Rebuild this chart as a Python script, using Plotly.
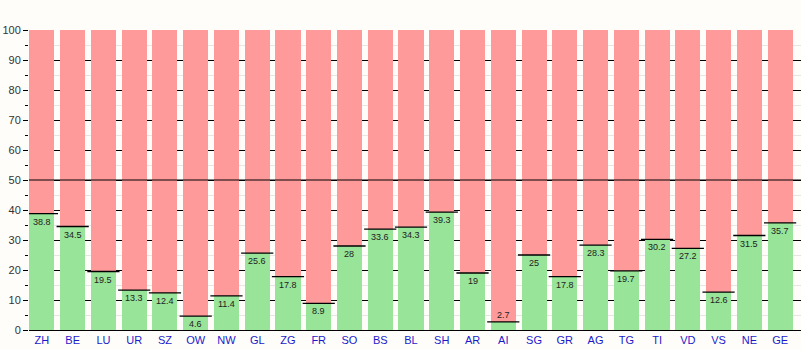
import plotly.graph_objects as go

cantons = ["ZH", "BE", "LU", "UR", "SZ", "OW", "NW", "GL", "ZG", "FR", "SO", "BS", "BL",
           "SH", "AR", "AI", "SG", "GR", "AG", "TG", "TI", "VD", "VS", "NE", "GE"]
yes_pct = [38.8, 34.5, 19.5, 13.3, 12.4, 4.6, 11.4, 25.6, 17.8, 8.9, 28, 33.6, 34.3,
           39.3, 19, 2.7, 25, 17.8, 28.3, 19.7, 30.2, 27.2, 12.6, 31.5, 35.7]
no_pct = [round(100 - v, 1) for v in yes_pct]
y_ticks = [0, 10, 20, 30, 40, 50, 60, 70, 80, 90, 100]

GREEN = "#98e498"
RED = "#ff9a9a"
FONT = "Liberation Sans, Arial, sans-serif"

fig = go.Figure()
fig.add_trace(go.Bar(x=cantons, y=yes_pct, marker=dict(color=GREEN, line=dict(width=0)),
                     hoverinfo="skip", name="Ja"))
fig.add_trace(go.Bar(x=cantons, y=no_pct, marker=dict(color=RED, line=dict(width=0)),
                     hoverinfo="skip", name="Nein"))

# black rule on top of each "yes" segment
fig.add_trace(go.Scatter(x=cantons, y=yes_pct, mode="markers",
                         marker=dict(symbol="line-ew", size=23,
                                     line=dict(color="black", width=1.3)),
                         hoverinfo="skip", showlegend=False))

# value labels: just below the top of the yes segment, above it when too short
for c, v in zip(cantons, yes_pct):
    above = v < 4
    fig.add_annotation(x=c, y=v, text=f"{v:g}", showarrow=False,
                       yanchor="bottom" if above else "top",
                       yshift=0 if above else -1,
                       font=dict(family=FONT, size=9, color="#222"))

# 50 % line drawn over the bars
fig.add_shape(type="line", xref="paper", x0=0, x1=1, yref="y", y0=50, y1=50,
              line=dict(color="black", width=1), layer="above")

fig.update_layout(
    barmode="stack",
    bargap=0.185,
    width=801, height=350,
    margin=dict(l=29, r=0, t=30, b=20),
    paper_bgcolor="#fffdf9",
    plot_bgcolor="#fffdf9",
    showlegend=False,
    font=dict(family=FONT, size=11, color="#333"),
)
fig.update_xaxes(
    range=[-0.42, 24.68],
    showgrid=False,
    ticks="",
    tickfont=dict(family=FONT, size=11, color="#1a1acc"),
    showline=True, linecolor="black", linewidth=1,
    fixedrange=True,
)
fig.update_yaxes(
    range=[0, 100],
    tickvals=y_ticks,
    ticks="outside", ticklen=5, tickcolor="black", tickwidth=1,
    showgrid=True, gridcolor="black", gridwidth=1,
    minor=dict(dtick=5, showgrid=True, gridcolor="#e6e6e6", gridwidth=1,
               ticks="outside", ticklen=3, tickcolor="black"),
    tickfont=dict(family=FONT, size=11, color="#333"),
    zeroline=False,
    showline=False,
    fixedrange=True,
)

fig.write_html("out.html")
